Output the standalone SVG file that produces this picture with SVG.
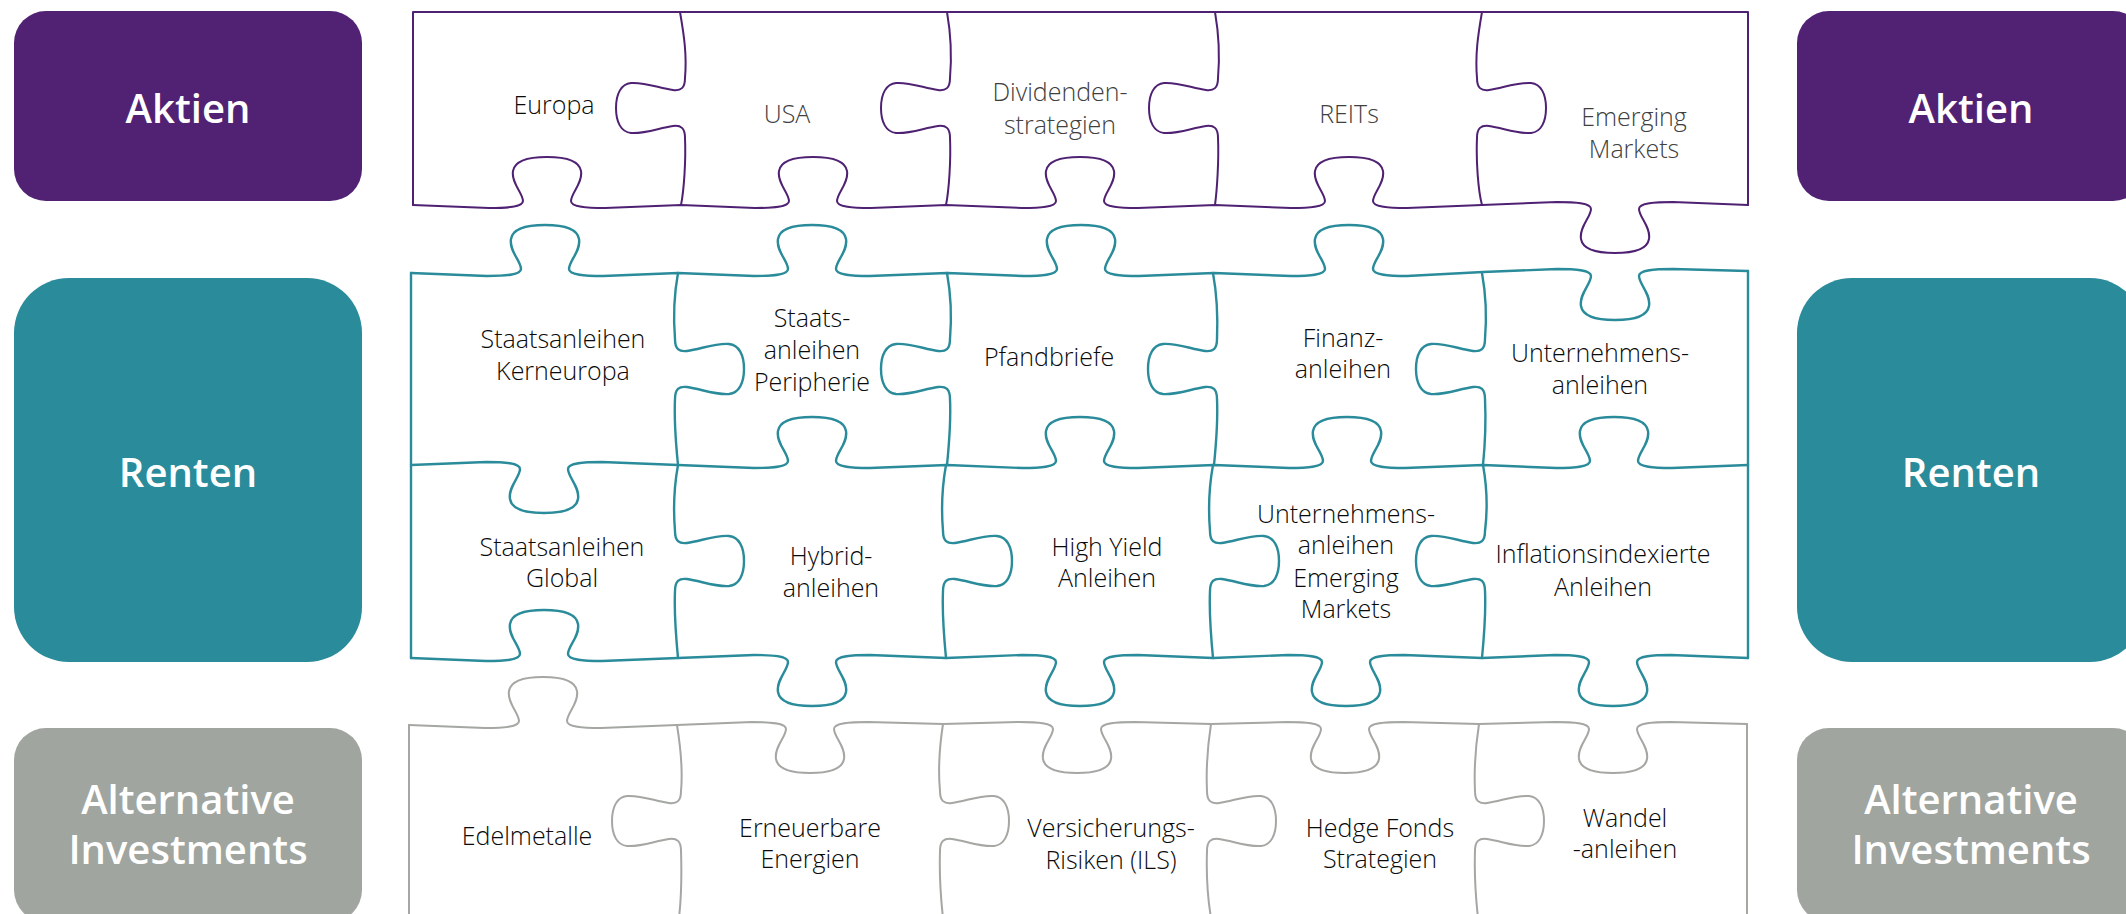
<svg xmlns="http://www.w3.org/2000/svg" width="2126" height="914" viewBox="0 0 2126 914">
<style>
.e{fill:none;stroke-linejoin:round;stroke-linecap:round}
.p{stroke:#4f2173;stroke-width:2}
.t{stroke:#2a8b9a;stroke-width:2.4}
.g{stroke:#a4a7a2;stroke-width:2}
.lbl{font-family:"Open Sans","Liberation Sans",sans-serif;font-weight:600;font-size:40px;fill:#fff;text-anchor:middle}
.pt{font-family:"Open Sans","Liberation Sans",sans-serif;font-weight:300;font-size:25px;fill:#0a0a0a;text-anchor:middle}
.gr{fill:#404040}
</style>
<rect width="2126" height="914" fill="#fff"/>
<g id="label-left-aktien"><rect x="14" y="11" width="348" height="190" rx="32" fill="#512174"/><text class="lbl" x="188" y="123">Aktien</text></g>
<g id="label-left-renten"><rect x="14" y="278" width="348" height="384" rx="55" fill="#2a8b9a"/><text class="lbl" x="188" y="487">Renten</text></g>
<g id="label-left-alt"><rect x="14" y="728" width="348" height="194" rx="32" fill="#a0a59f"/><text class="lbl" x="188" y="814">Alternative</text><text class="lbl" x="188" y="864">Investments</text></g>
<g id="label-right-aktien"><rect x="1797" y="11" width="348" height="190" rx="32" fill="#512174"/><text class="lbl" x="1971" y="123">Aktien</text></g>
<g id="label-right-renten"><rect x="1797" y="278" width="348" height="384" rx="55" fill="#2a8b9a"/><text class="lbl" x="1971" y="487">Renten</text></g>
<g id="label-right-alt"><rect x="1797" y="728" width="348" height="194" rx="32" fill="#a0a59f"/><text class="lbl" x="1971" y="814">Alternative</text><text class="lbl" x="1971" y="864">Investments</text></g>
<g id="connectors">
<g id="edges-aktien" class="e p">
<path d="M 413,205 V 12 H 1748 V 205"/>
<path d="M 413,205 L 489,208 c 18,0 34,-1 34,-7 c 0,-8 -12,-18 -10,-30 c 2,-12 20,-14 34,-14 c 14,0 32,2 34,14 c 2,12 -10,22 -10,30 c 0,6 16,7 34,7 L 681,205 L 755,208 c 18,0 34,-1 34,-7 c 0,-8 -12,-18 -10,-30 c 2,-12 20,-14 34,-14 c 14,0 32,2 34,14 c 2,12 -10,22 -10,30 c 0,6 16,7 34,7 L 946,205 L 1022,208 c 18,0 34,-1 34,-7 c 0,-8 -12,-18 -10,-30 c 2,-12 20,-14 34,-14 c 14,0 32,2 34,14 c 2,12 -10,22 -10,30 c 0,6 16,7 34,7 L 1215,205 L 1291,208 c 18,0 34,-1 34,-7 c 0,-8 -12,-18 -10,-30 c 2,-12 20,-14 34,-14 c 14,0 32,2 34,14 c 2,12 -10,22 -10,30 c 0,6 16,7 34,7 L 1482,205 L 1557,202 c 18,0 34,1 34,7 c 0,8 -12,18 -10,30 c 2,12 20,14 34,14 c 14,0 32,-2 34,-14 c 2,-12 -10,-22 -10,-30 c 0,-6 16,-7 34,-7 L 1748,205"/>
<path d="M 680,12 C 684,35 687,55 685,78 c 0,10 -4,13 -12,12 c -14,-2 -28,-8 -42,-7 c -10,1 -15,11 -15,25 c 0,14 5,24 15,25 c 14,1 28,-5 42,-7 c 8,-1 12,2 12,12 C 686,160 684,190 681,205"/>
<path d="M 947,12 C 951,35 952,55 950,78 c 0,10 -4,13 -12,12 c -14,-2 -28,-8 -42,-7 c -10,1 -15,11 -15,25 c 0,14 5,24 15,25 c 14,1 28,-5 42,-7 c 8,-1 12,2 12,12 C 951,160 949,190 946,205"/>
<path d="M 1215,12 C 1219,35 1220,55 1218,78 c 0,10 -4,13 -12,12 c -14,-2 -28,-8 -42,-7 c -10,1 -15,11 -15,25 c 0,14 5,24 15,25 c 14,1 28,-5 42,-7 c 8,-1 12,2 12,12 C 1219,160 1217,190 1215,205"/>
<path d="M 1482,12 C 1478,35 1475,55 1477,78 c 0,10 4,13 12,12 c 14,-2 28,-8 42,-7 c 10,1 15,11 15,25 c 0,14 -5,24 -15,25 c -14,1 -28,-5 -42,-7 c -8,-1 -12,2 -12,12 C 1476,160 1478,190 1482,205"/>
</g>
<g id="edges-renten" class="e t">
<path d="M 411,273 V 658"/>
<path d="M 1748,271 V 658"/>
<path d="M 411,273 L 487,276 c 18,0 34,-1 34,-7 c 0,-8 -12,-18 -10,-30 c 2,-12 20,-14 34,-14 c 14,0 32,2 34,14 c 2,12 -10,22 -10,30 c 0,6 16,7 34,7 L 678,273 L 754,276 c 18,0 34,-1 34,-7 c 0,-8 -12,-18 -10,-30 c 2,-12 20,-14 34,-14 c 14,0 32,2 34,14 c 2,12 -10,22 -10,30 c 0,6 16,7 34,7 L 947,273 L 1023,276 c 18,0 34,-1 34,-7 c 0,-8 -12,-18 -10,-30 c 2,-12 20,-14 34,-14 c 14,0 32,2 34,14 c 2,12 -10,22 -10,30 c 0,6 16,7 34,7 L 1214,273 L 1291,276 c 18,0 34,-1 34,-7 c 0,-8 -12,-18 -10,-30 c 2,-12 20,-14 34,-14 c 14,0 32,2 34,14 c 2,12 -10,22 -10,30 c 0,6 16,7 34,7 L 1483,272 L 1557,269 c 18,0 34,1 34,7 c 0,8 -12,18 -10,30 c 2,12 20,14 34,14 c 14,0 32,-2 34,-14 c 2,-12 -10,-22 -10,-30 c 0,-6 16,-7 34,-7 L 1748,271"/>
<path d="M 411,465 L 486,462 c 18,0 34,1 34,7 c 0,8 -12,18 -10,30 c 2,12 20,14 34,14 c 14,0 32,-2 34,-14 c 2,-12 -10,-22 -10,-30 c 0,-6 16,-7 34,-7 L 678,465 L 754,468 c 18,0 34,-1 34,-7 c 0,-8 -12,-18 -10,-30 c 2,-12 20,-14 34,-14 c 14,0 32,2 34,14 c 2,12 -10,22 -10,30 c 0,6 16,7 34,7 L 947,465 L 1022,468 c 18,0 34,-1 34,-7 c 0,-8 -12,-18 -10,-30 c 2,-12 20,-14 34,-14 c 14,0 32,2 34,14 c 2,12 -10,22 -10,30 c 0,6 16,7 34,7 L 1214,465 L 1289,468 c 18,0 34,-1 34,-7 c 0,-8 -12,-18 -10,-30 c 2,-12 20,-14 34,-14 c 14,0 32,2 34,14 c 2,12 -10,22 -10,30 c 0,6 16,7 34,7 L 1483,465 L 1556,468 c 18,0 34,-1 34,-7 c 0,-8 -12,-18 -10,-30 c 2,-12 20,-14 34,-14 c 14,0 32,2 34,14 c 2,12 -10,22 -10,30 c 0,6 16,7 34,7 L 1748,465"/>
<path d="M 411,658 L 486,661 c 18,0 34,-1 34,-7 c 0,-8 -12,-18 -10,-30 c 2,-12 20,-14 34,-14 c 14,0 32,2 34,14 c 2,12 -10,22 -10,30 c 0,6 16,7 34,7 L 678,658 L 754,655 c 18,0 34,1 34,7 c 0,8 -12,18 -10,30 c 2,12 20,14 34,14 c 14,0 32,-2 34,-14 c 2,-12 -10,-22 -10,-30 c 0,-6 16,-7 34,-7 L 946,658 L 1022,655 c 18,0 34,1 34,7 c 0,8 -12,18 -10,30 c 2,12 20,14 34,14 c 14,0 32,-2 34,-14 c 2,-12 -10,-22 -10,-30 c 0,-6 16,-7 34,-7 L 1213,658 L 1288,655 c 18,0 34,1 34,7 c 0,8 -12,18 -10,30 c 2,12 20,14 34,14 c 14,0 32,-2 34,-14 c 2,-12 -10,-22 -10,-30 c 0,-6 16,-7 34,-7 L 1482,658 L 1555,655 c 18,0 34,1 34,7 c 0,8 -12,18 -10,30 c 2,12 20,14 34,14 c 14,0 32,-2 34,-14 c 2,-12 -10,-22 -10,-30 c 0,-6 16,-7 34,-7 L 1748,658"/>
<path d="M 678,273 C 674,295 673,315 675,339 c 0,10 4,13 12,12 c 14,-2 28,-8 42,-7 c 10,1 15,11 15,25 c 0,14 -5,24 -15,25 c -14,1 -28,-5 -42,-7 c -8,-1 -12,2 -12,12 C 674,420 676,445 678,465"/>
<path d="M 947,273 C 951,295 952,315 950,339 c 0,10 -4,13 -12,12 c -14,-2 -28,-8 -42,-7 c -10,1 -15,11 -15,25 c 0,14 5,24 15,25 c 14,1 28,-5 42,-7 c 8,-1 12,2 12,12 C 951,420 949,445 947,465"/>
<path d="M 1213,273 C 1217,295 1218,315 1217,339 c 0,10 -4,13 -12,12 c -14,-2 -28,-8 -42,-7 c -10,1 -15,11 -15,25 c 0,14 5,24 15,25 c 14,1 28,-5 42,-7 c 8,-1 12,2 12,12 C 1218,420 1216,445 1214,465"/>
<path d="M 1482,273 C 1486,295 1487,315 1485,339 c 0,10 -4,13 -12,12 c -14,-2 -28,-8 -42,-7 c -10,1 -15,11 -15,25 c 0,14 5,24 15,25 c 14,1 28,-5 42,-7 c 8,-1 12,2 12,12 C 1486,420 1485,445 1483,465"/>
<path d="M 678,465 C 674,487 673,507 675,531 c 0,10 4,13 12,12 c 14,-2 28,-8 42,-7 c 10,1 15,11 15,25 c 0,14 -5,24 -15,25 c -14,1 -28,-5 -42,-7 c -8,-1 -12,2 -12,12 C 674,612 676,637 678,658"/>
<path d="M 946,465 C 942,487 941,507 943,531 c 0,10 4,13 12,12 c 14,-2 28,-8 42,-7 c 10,1 15,11 15,25 c 0,14 -5,24 -15,25 c -14,1 -28,-5 -42,-7 c -8,-1 -12,2 -12,12 C 942,612 944,637 946,658"/>
<path d="M 1213,465 C 1209,487 1208,507 1210,531 c 0,10 4,13 12,12 c 14,-2 28,-8 42,-7 c 10,1 15,11 15,25 c 0,14 -5,24 -15,25 c -14,1 -28,-5 -42,-7 c -8,-1 -12,2 -12,12 C 1209,612 1211,637 1213,658"/>
<path d="M 1483,465 C 1487,487 1488,507 1485,531 c 0,10 -4,13 -12,12 c -14,-2 -28,-8 -42,-7 c -10,1 -15,11 -15,25 c 0,14 5,24 15,25 c 14,1 28,-5 42,-7 c 8,-1 12,2 12,12 C 1486,612 1484,637 1482,658"/>
</g>
<g id="edges-alternative" class="e g">
<path d="M 409,725 V 920"/>
<path d="M 1747,724 V 920"/>
<path d="M 409,725 L 485,728 c 18,0 34,-1 34,-7 c 0,-8 -12,-18 -10,-30 c 2,-12 20,-14 34,-14 c 14,0 32,2 34,14 c 2,12 -10,22 -10,30 c 0,6 16,7 34,7 L 677,725 L 752,722 c 18,0 34,1 34,7 c 0,8 -12,18 -10,30 c 2,12 20,14 34,14 c 14,0 32,-2 34,-14 c 2,-12 -10,-22 -10,-30 c 0,-6 16,-7 34,-7 L 943,724 L 1019,722 c 18,0 34,1 34,7 c 0,8 -12,18 -10,30 c 2,12 20,14 34,14 c 14,0 32,-2 34,-14 c 2,-12 -10,-22 -10,-30 c 0,-6 16,-7 34,-7 L 1211,724 L 1287,722 c 18,0 34,1 34,7 c 0,8 -12,18 -10,30 c 2,12 20,14 34,14 c 14,0 32,-2 34,-14 c 2,-12 -10,-22 -10,-30 c 0,-6 16,-7 34,-7 L 1479,724 L 1555,722 c 18,0 34,1 34,7 c 0,8 -12,18 -10,30 c 2,12 20,14 34,14 c 14,0 32,-2 34,-14 c 2,-12 -10,-22 -10,-30 c 0,-6 16,-7 34,-7 L 1747,724"/>
<path d="M 677,725 C 681,750 683,770 681,791 c 0,10 -4,13 -12,12 c -14,-2 -28,-8 -42,-7 c -10,1 -15,11 -15,25 c 0,14 5,24 15,25 c 14,1 28,-5 42,-7 c 8,-1 12,2 12,12 C 682,880 681,900 679,918"/>
<path d="M 943,724 C 939,750 938,770 940,791 c 0,10 4,13 12,12 c 14,-2 28,-8 42,-7 c 10,1 15,11 15,25 c 0,14 -5,24 -15,25 c -14,1 -28,-5 -42,-7 c -8,-1 -12,2 -12,12 C 939,880 941,900 943,918"/>
<path d="M 1211,724 C 1207,750 1206,770 1207,791 c 0,10 4,13 12,12 c 14,-2 28,-8 42,-7 c 10,1 15,11 15,25 c 0,14 -5,24 -15,25 c -14,1 -28,-5 -42,-7 c -8,-1 -12,2 -12,12 C 1206,880 1208,900 1211,918"/>
<path d="M 1479,724 C 1475,750 1474,770 1475,791 c 0,10 4,13 12,12 c 14,-2 28,-8 42,-7 c 10,1 15,11 15,25 c 0,14 -5,24 -15,25 c -14,1 -28,-5 -42,-7 c -8,-1 -12,2 -12,12 C 1474,880 1476,900 1478,918"/>
</g>
</g>
<g id="piece-europa"><text class="pt" x="554" y="114">Europa</text></g>
<g id="piece-usa"><text class="pt gr" x="787" y="123">USA</text></g>
<g id="piece-dividenden"><text class="pt gr" x="1060" y="101">Dividenden-</text><text class="pt gr" x="1060" y="134">strategien</text></g>
<g id="piece-reits"><text class="pt gr" x="1349" y="123">REITs</text></g>
<g id="piece-em-aktien"><text class="pt gr" x="1634" y="126">Emerging</text><text class="pt gr" x="1634" y="158">Markets</text></g>
<g id="piece-staats-kern"><text class="pt" x="563" y="348">Staatsanleihen</text><text class="pt" x="563" y="380">Kerneuropa</text></g>
<g id="piece-staats-peri"><text class="pt" x="812" y="327">Staats-</text><text class="pt" x="812" y="359">anleihen</text><text class="pt" x="812" y="391">Peripherie</text></g>
<g id="piece-pfandbriefe"><text class="pt" x="1049" y="366">Pfandbriefe</text></g>
<g id="piece-finanz"><text class="pt" x="1343" y="347">Finanz-</text><text class="pt" x="1343" y="378">anleihen</text></g>
<g id="piece-unternehmen"><text class="pt" x="1600" y="362">Unternehmens-</text><text class="pt" x="1600" y="394">anleihen</text></g>
<g id="piece-staats-global"><text class="pt" x="562" y="556">Staatsanleihen</text><text class="pt" x="562" y="587">Global</text></g>
<g id="piece-hybrid"><text class="pt" x="831" y="565">Hybrid-</text><text class="pt" x="831" y="597">anleihen</text></g>
<g id="piece-high-yield"><text class="pt" x="1107" y="556">High Yield</text><text class="pt" x="1107" y="587">Anleihen</text></g>
<g id="piece-unternehmen-em"><text class="pt" x="1346" y="523">Unternehmens-</text><text class="pt" x="1346" y="554">anleihen</text><text class="pt" x="1346" y="587">Emerging</text><text class="pt" x="1346" y="618">Markets</text></g>
<g id="piece-inflation"><text class="pt" x="1603" y="563">Inflationsindexierte</text><text class="pt" x="1603" y="596">Anleihen</text></g>
<g id="piece-edelmetalle"><text class="pt" x="527" y="845">Edelmetalle</text></g>
<g id="piece-erneuerbare"><text class="pt" x="810" y="837">Erneuerbare</text><text class="pt" x="810" y="868">Energien</text></g>
<g id="piece-versicherung"><text class="pt" x="1111" y="837">Versicherungs-</text><text class="pt" x="1111" y="869">Risiken (ILS)</text></g>
<g id="piece-hedge"><text class="pt" x="1380" y="837">Hedge Fonds</text><text class="pt" x="1380" y="868">Strategien</text></g>
<g id="piece-wandel"><text class="pt" x="1625" y="827">Wandel</text><text class="pt" x="1625" y="858">-anleihen</text></g>
</svg>
